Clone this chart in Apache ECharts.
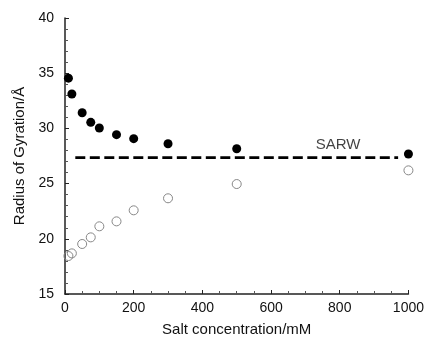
<!DOCTYPE html>
<html>
<head>
<meta charset="utf-8">
<script src="https://cdn.jsdelivr.net/npm/echarts@6/dist/echarts.min.js"></script>
<style>
  html, body { margin: 0; padding: 0; background: #fff; }
  #chart { width: 427px; height: 351px; }
</style>
</head>
<body>
<div id="chart"></div>
<script>
// Salt concentrations (mM)
const saltConc = [10, 20, 50, 75, 100, 150, 200, 300, 500, 1000];
// Radius of gyration (Å), filled markers
const rgFilled = [34.55, 33.12, 31.42, 30.55, 30.04, 29.43, 29.07, 28.61, 28.16, 27.68];
// Radius of gyration (Å), open markers
const rgOpen = [18.44, 18.68, 19.53, 20.13, 21.13, 21.58, 22.58, 23.67, 24.96, 26.2];
// SARW reference level
const sarwLine = [[30, 27.35], [970, 27.35]];
const sarwLabel = { text: 'SARW', x: 795, y: 28.5 };

const font = 'Liberation Sans, Arial, sans-serif';
const axisColor = '#222';

const chart = echarts.init(document.getElementById('chart'));
chart.setOption({
  animation: false,
  backgroundColor: '#fff',
  grid: { left: 65, right: 16, top: 18, bottom: 57 },
  xAxis: {
    type: 'value', min: 0, max: 1000, interval: 200,
    name: 'Salt concentration/mM', nameLocation: 'middle', nameGap: 28,
    nameTextStyle: { fontFamily: font, fontSize: 15, color: '#111' },
    axisLine: { show: true, lineStyle: { color: axisColor, width: 1.5 } },
    axisTick: { show: true, inside: true, length: 4, lineStyle: { color: axisColor } },
    minorTick: { show: true, splitNumber: 4, length: 3, lineStyle: { color: '#555' } },
    axisLabel: { fontFamily: font, fontSize: 14, color: '#111', margin: 7, formatter: v => String(v) },
    splitLine: { show: false }
  },
  yAxis: {
    type: 'value', min: 15, max: 40, interval: 5,
    name: 'Radius of Gyration/Å', nameLocation: 'middle', nameGap: 38,
    nameTextStyle: { fontFamily: font, fontSize: 15, color: '#111' },
    axisLine: { show: true, lineStyle: { color: axisColor, width: 1.5 } },
    axisTick: { show: true, inside: true, length: 4, lineStyle: { color: axisColor } },
    minorTick: { show: true, splitNumber: 5, length: 3, lineStyle: { color: '#555' } },
    axisLabel: { fontFamily: font, fontSize: 14, color: '#111', margin: 11 },
    splitLine: { show: false }
  },
  series: [
    {
      type: 'line',
      data: sarwLine,
      symbol: 'none',
      lineStyle: { color: '#000', width: 2.6, type: [10, 4.5] },
      silent: true,
      z: 1
    },
    {
      type: 'scatter',
      data: saltConc.map((x, i) => [x, rgFilled[i]]),
      symbol: 'circle', symbolSize: 9,
      itemStyle: { color: '#000', opacity: 1 },
      z: 3
    },
    {
      type: 'scatter',
      data: saltConc.map((x, i) => [x, rgOpen[i]]),
      symbol: 'circle', symbolSize: 9,
      itemStyle: { color: 'rgba(255,255,255,0)', borderColor: '#888', borderWidth: 1, opacity: 1 },
      z: 3
    },
    {
      type: 'scatter',
      data: [[sarwLabel.x, sarwLabel.y]],
      symbolSize: 0,
      label: {
        show: true, position: 'inside', formatter: sarwLabel.text,
        fontFamily: font, fontSize: 15, color: '#111'
      },
      silent: true
    }
  ]
});
</script>
</body>
</html>
